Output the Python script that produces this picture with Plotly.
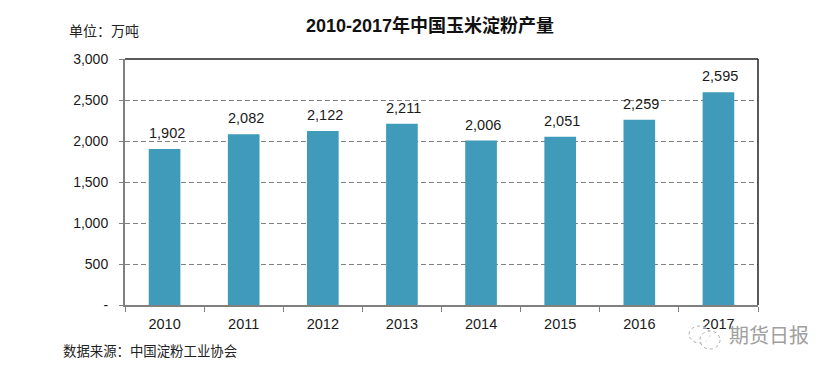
import plotly.graph_objects as go

years = ["2010", "2011", "2012", "2013", "2014", "2015", "2016", "2017"]
values = [1902, 2082, 2122, 2211, 2006, 2051, 2259, 2595]
value_labels = ["1,902", "2,082", "2,122", "2,211", "2,006", "2,051", "2,259", "2,595"]
y_ticks = [0, 500, 1000, 1500, 2000, 2500, 3000]
y_tick_labels = ["-", "500", "1,000", "1,500", "2,000", "2,500", "3,000"]

OFF = 8  # the page body adds this margin on the top and left
W, H = 833 - OFF, 372 - OFF
L, R, T, B = 125 - OFF, 758 - OFF, 59 - OFF, 305 - OFF
ARIAL = "Liberation Sans, Arial, sans-serif"
CJK = "Liberation Sans, Noto Sans CJK SC, sans-serif"

fig = go.Figure(go.Bar(
    x=years, y=values, cliponaxis=False,
    marker=dict(color="#3f9bb9", line=dict(width=0)),
    hoverinfo="skip",
))
fig.update_layout(
    width=W, height=H, autosize=False, showlegend=False, bargap=0.6,
    paper_bgcolor="white", plot_bgcolor="white",
    margin=dict(l=L, r=W - R, t=T, b=H - B),
    xaxis=dict(type="category", range=[-0.5, len(years) - 0.5],
               showgrid=False, showline=True, linecolor="#808080", linewidth=2,
               ticks="outside", ticklen=5, tickcolor="#808080", tickson="boundaries",
               ticklabelstandoff=5, tickangle=0,
               tickfont=dict(family=ARIAL, size=14.5, color="#1a1a1a"), fixedrange=True),
    yaxis=dict(range=[0, 3000], tickvals=y_ticks, ticktext=y_tick_labels,
               showgrid=True, griddash="5px,3px", gridcolor="#808080", gridwidth=1, zeroline=False,
               showline=True, linecolor="#808080", linewidth=2,
               ticks="outside", ticklen=4, tickcolor="#808080", ticklabelstandoff=8,
               tickfont=dict(family=ARIAL, size=14, color="#1a1a1a"), fixedrange=True),
    font=dict(family=CJK),
)
for i, (v, lab) in enumerate(zip(values, value_labels)):
    fig.add_annotation(x=i, y=v, text=lab, showarrow=False, xanchor="center", yanchor="bottom",
                       xshift=2, yshift=6, font=dict(family=ARIAL, size=14.5, color="#1a1a1a"))

# Top and right frame lines
fig.add_shape(type="line", xref="paper", yref="paper", x0=0, x1=1, y0=1, y1=1,
              line=dict(color="#222222", width=1.5))
fig.add_shape(type="line", xref="paper", yref="paper", x0=1, x1=1, y0=0, y1=1,
              line=dict(color="#222222", width=1.5))

def px(x):
    return (x - OFF - L) / (R - L)
def py(y):
    return (B - (y - OFF)) / (B - T)

def text(x, y, s, size, color, bold=False, anchor="left"):
    fig.add_annotation(xref="paper", yref="paper", x=px(x), y=py(y), text=f"<b>{s}</b>" if bold else s,
                       showarrow=False, xanchor=anchor, yanchor="middle", align=anchor,
                       font=dict(family=CJK, size=size, color=color))

text(430, 25, "2010-2017年中国玉米淀粉产量", 18, "#111111", bold=True, anchor="center")
text(67, 31, "单位：万吨", 14, "#222222")
text(61, 351, "数据来源：中国淀粉工业协会", 13.4, "#222222")
text(727, 336, "期货日报", 20, "#a0a0a0")

# Watermark bubble icon
for x0, y0, x1, y1 in [(689, 326, 710, 343), (700, 331, 720, 349)]:
    fig.add_shape(type="circle", xref="paper", yref="paper", x0=px(x0), x1=px(x1), y0=py(y1), y1=py(y0),
                  line=dict(color="#aaaaaa", width=1, dash="dot"), fillcolor="rgba(255,255,255,0.6)")

fig.write_html("out.html")
